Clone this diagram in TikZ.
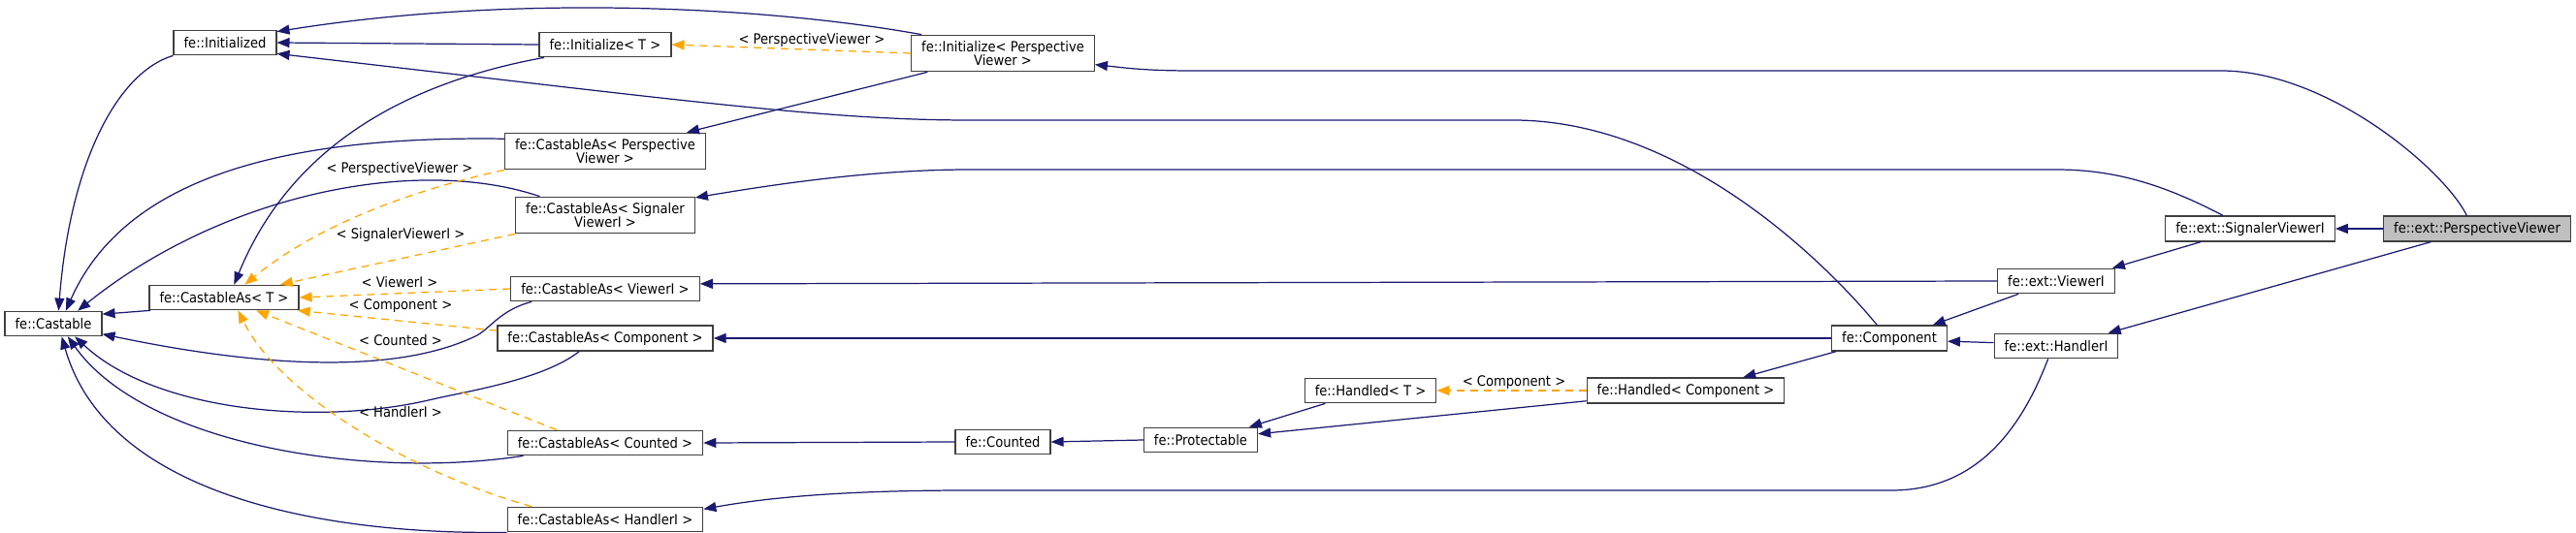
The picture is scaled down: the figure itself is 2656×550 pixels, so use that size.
\documentclass[tikz,border=0pt]{standalone}
\usepackage{fontspec}
\setmainfont{DejaVu Sans}[FakeStretch=0.9]
\usetikzlibrary{arrows.meta}
\definecolor{cnavy}{HTML}{191970}
\definecolor{corange}{HTML}{FFA500}
\definecolor{cedge}{HTML}{404040}
\definecolor{chigh}{HTML}{BFBFBF}
\tikzset{
  every picture/.style={line width=0.7pt},
  cls/.style={draw=cedge, fill=white, font=\fontsize{8.3}{8.1}\selectfont, align=center, inner xsep=0.21cm, inner ysep=0.12cm, minimum height=0.51cm},
  inh/.style={-{Triangle[length=0.26cm, width=0.2cm]}, draw=cnavy},
  tmpl/.style={-{Triangle[length=0.26cm, width=0.2cm]}, draw=corange, dash pattern=on 0.16cm off 0.12cm},
  lbl/.style={font=\fontsize{8.3}{8.1}\selectfont, inner sep=1pt},
}

\begin{document}
\begin{tikzpicture}[x=0.02cm, y=-0.02cm]
  \useasboundingbox (0,0) rectangle (2656,550);
  % classes
  \node[cls] (castable) at (55,334) {fe::Castable};
  \node[cls] (initialized) at (232,44) {fe::Initialized};
  \node[cls] (casT) at (231,307) {fe::CastableAs< T >};
  \node[cls] (initT) at (624,46) {fe::Initialize< T >};
  \node[cls] (initPV) at (1034,55) {fe::Initialize< Perspective\\Viewer >};
  \node[cls] (casPV) at (624,156) {fe::CastableAs< Perspective\\Viewer >};
  \node[cls] (casSVI) at (624,222) {fe::CastableAs< Signaler\\ViewerI >};
  \node[cls] (casVI) at (624,298) {fe::CastableAs< ViewerI >};
  \node[cls] (casComp) at (624,349) {fe::CastableAs< Component >};
  \node[cls] (casCnt) at (624,457) {fe::CastableAs< Counted >};
  \node[cls] (casHI) at (624,536) {fe::CastableAs< HandlerI >};
  \node[cls] (counted) at (1034,456) {fe::Counted};
  \node[cls] (protectable) at (1238,454) {fe::Protectable};
  \node[cls] (handledT) at (1413,403) {fe::Handled< T >};
  \node[cls] (handledComp) at (1738,403) {fe::Handled< Component >};
  \node[cls] (component) at (1948,349) {fe::Component};
  \node[cls] (viewerI) at (2120,290) {fe::ext::ViewerI};
  \node[cls] (handlerI) at (2120,357) {fe::ext::HandlerI};
  \node[cls] (sigViewer) at (2320,236) {fe::ext::SignalerViewerI};
  \node[cls, fill=chigh] (perspViewer) at (2554,236) {fe::ext::PerspectiveViewer};

  % fe::Castable
  \draw[inh] (initialized.south west) .. controls (120,75) and (72,170) .. (castable.68);
  \draw[inh] (casT.190) -- (castable.11);
  \draw[inh] (casPV.173) .. controls (300,140) and (130,180) .. (castable.46);
  \draw[inh] (casSVI.164) .. controls (430,160) and (230,200) .. (castable.28);
  \draw[inh] (casVI.190) .. controls (515,320) and (505,340) .. (490,347) .. controls (400,390) and (250,375) .. (castable.-12);
  \draw[inh] (casComp.-153) .. controls (560,392) and (480,404) .. (446,412) .. controls (330,440) and (160,425) .. (castable.-31);
  \draw[inh] (casCnt.189) .. controls (380,495) and (150,460) .. (castable.-42);
  \draw[inh] (casHI.south west) .. controls (330,552) and (110,510) .. (castable.-57);

  % fe::Initialized
  \draw[inh] (initT.west) -- (initialized.east);
  \draw[inh] (initPV.167) .. controls (780,5) and (520,-5) .. (initialized.12);
  \draw[inh] (component.133) .. controls (1890,280) and (1740,124) .. (1560,124) -- (1000,124) .. controls (850,124) and (700,103) .. (initialized.-12);

  % fe::CastableAs< T >
  \draw[inh] (initT.192) .. controls (420,85) and (300,150) .. (casT.52);
  \draw[tmpl] (casPV.south west) .. controls (430,195) and (330,230) .. (casT.32);
  \draw[tmpl] (casSVI.south west) -- (casT.13);
  \draw[tmpl] (casVI.west) -- (casT.east);
  \draw[tmpl] (casComp.176) -- (casT.-10);
  \draw[tmpl] (casCnt.165) -- (casT.-22);
  \draw[tmpl] (casHI.170) .. controls (430,490) and (290,410) .. (casT.-43);
  \node[lbl] (lblPV) at (412,174) {< PerspectiveViewer >};
  \node[lbl] (lblSVI) at (413,242) {< SignalerViewerI >};
  \node[lbl] (lblVI) at (412,291) {< ViewerI >};
  \node[lbl] (lblComp) at (413,316) {< Component >};
  \node[lbl] (lblCnt) at (413,351) {< Counted >};
  \node[lbl] (lblHI) at (413,425) {< HandlerI >};

  % fe::Initialize
  \draw[tmpl] (initPV.west) -- (initT.east);
  \node[lbl] (lblInit) at (837,41) {< PerspectiveViewer >};
  \draw[inh] (initPV.194) -- (casPV.13);

  % right part
  \draw[inh] (perspViewer.128) .. controls (2520,175) and (2400,73) .. (2290,73) -- (1230,73) .. controls (1180,73) and (1160,70) .. (initPV.-7);
  \draw[inh] (sigViewer.154) .. controls (2230,190) and (2180,175) .. (2120,175) -- (1000,175) .. controls (900,175) and (800,190) .. (casSVI.11);
  \draw[inh] (viewerI.west) -- (casVI.3);
  \draw[inh] (component.west) -- (casComp.east);
  \draw[inh] (viewerI.199) -- (component.17);
  \draw[inh] (handlerI.177) -- (component.-3);
  \draw[inh] (component.194) -- (handledComp.13);
  \draw[tmpl] (handledComp.west) -- (handledT.east);
  \node[lbl] (lblHandled) at (1561,395) {< Component >};
  \draw[inh] (handledT.196) -- (protectable.15);
  \draw[inh] (handledComp.186) -- (protectable.6);
  \draw[inh] (protectable.west) -- (counted.east);
  \draw[inh] (counted.west) -- (casCnt.east);
  \draw[inh] (handlerI.238) .. controls (2085,440) and (2040,506) .. (1950,506) -- (1000,506) .. controls (880,506) and (800,512) .. (casHI.6);
  \draw[inh] (perspViewer.west) -- (sigViewer.east);
  \draw[inh] (sigViewer.195) -- (viewerI.13);
  \draw[inh] (perspViewer.196) -- (handlerI.14);
\end{tikzpicture}
\end{document}
